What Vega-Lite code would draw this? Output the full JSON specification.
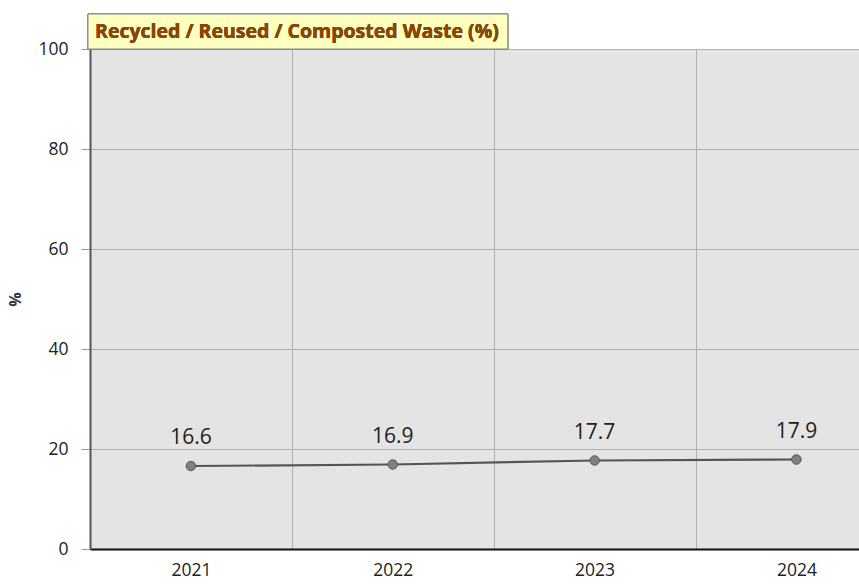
{
  "$schema": "https://vega.github.io/schema/vega-lite/v6.json",
  "width": 769,
  "height": 500,
  "autosize": {"type": "none"},
  "padding": {"left": 90, "top": 49, "right": 0, "bottom": 36},
  "background": "#ffffff",
  "config": {
    "view": {"fill": "#e4e4e4", "stroke": null},
    "font": "Open Sans"
  },
  "data": {
    "values": [
      {"year": 2021, "value": 16.6},
      {"year": 2022, "value": 16.9},
      {"year": 2023, "value": 17.7},
      {"year": 2024, "value": 17.9}
    ]
  },
  "encoding": {
    "x": {
      "field": "year",
      "type": "quantitative",
      "scale": {"domain": [2020.5, 2024.31], "nice": false, "zero": false},
      "axis": {
        "title": null,
        "values": [2021, 2021.5, 2022, 2022.5, 2023, 2023.5, 2024],
        "labelExpr": "datum.value % 1 === 0 ? '' + datum.value : ''",
        "grid": true,
        "gridColor": "#b0b0b0",
        "gridOpacity": {"condition": {"test": "datum.value % 1 !== 0", "value": 1}, "value": 0},
        "ticks": false,
        "domainColor": "#111111",
        "domainWidth": 2,
        "labelFontSize": 17.5,
        "labelColor": "#222222",
        "labelPadding": 12,
        "labelFlush": false
      }
    },
    "y": {
      "field": "value",
      "type": "quantitative",
      "scale": {"domain": [0, 100], "nice": false},
      "axis": {
        "title": "%",
        "titleFontSize": 16,
        "titleFontWeight": "bold",
        "titleColor": "#333333",
        "titlePadding": 14,
        "values": [0, 20, 40, 60, 80, 100],
        "grid": true,
        "gridColor": "#b0b0b0",
        "tickColor": "#999999",
        "tickSize": 9,
        "domainColor": "#555555",
        "domainWidth": 2,
        "labelFontSize": 17.5,
        "labelColor": "#222222",
        "labelPadding": 13
      }
    }
  },
  "layer": [
    {
      "mark": {"type": "line", "color": "#555555", "strokeWidth": 2.2}
    },
    {
      "mark": {"type": "point", "filled": true, "fill": "#808080", "stroke": "#555555", "strokeWidth": 1, "size": 90, "opacity": 1}
    },
    {
      "mark": {"type": "text", "dy": -28, "fontSize": 21, "color": "#222222"},
      "encoding": {"text": {"field": "value", "type": "quantitative", "format": ".1f"}}
    },
    {
      "mark": {"type": "rect", "fill": "#ffffc0", "stroke": "#888888", "strokeWidth": 1},
      "encoding": {
        "x": {"datum": 2020.49},
        "x2": {"datum": 2022.57},
        "y": {"datum": 100},
        "y2": {"datum": 107}
      }
    },
    {
      "mark": {"type": "text", "text": "Recycled / Reused / Composted Waste (%)", "font": "Open Sans", "fontWeight": "bold", "fontSize": 19.5, "color": "#8a4608", "align": "left", "baseline": "middle"},
      "encoding": {
        "x": {"datum": 2020.525},
        "y": {"datum": 103.4}
      }
    }
  ]
}
